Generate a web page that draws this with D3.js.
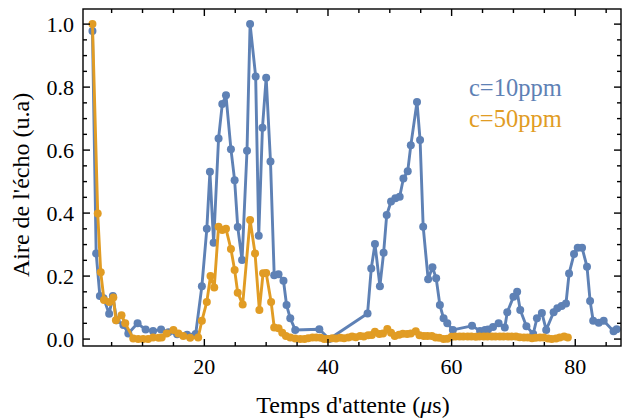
<!DOCTYPE html>
<html><head><meta charset="utf-8">
<script src="https://cdn.jsdelivr.net/npm/d3@7"></script>
<style>body{margin:0;background:#fff}svg{display:block}</style>
</head><body>
<svg id="c" width="622" height="419"></svg>
<script>
// ---- data ----
const blueX = [1.9,2.5,3.1,3.7,4.6,5.2,5.8,6.9,7.7,9.2,10.5,11.7,13.0,14.2,15.6,17.2,18.6,19.6,20.4,20.9,21.5,22.3,22.9,23.5,24.3,24.9,25.4,26.1,26.9,27.4,28.3,28.8,29.4,30.0,30.7,31.3,32.0,32.8,33.3,33.9,34.7,38.6,40.2,46.4,47.0,47.6,48.4,49.0,49.5,50.2,50.9,51.6,52.2,52.9,53.4,54.4,54.9,55.4,56.2,56.9,57.5,58.1,58.7,59.3,60.2,63.3,64.6,65.4,65.9,66.7,67.6,68.6,69.0,70.0,70.6,71.1,72.1,73.2,73.8,74.6,75.3,76.5,77.1,77.8,78.5,79.0,79.8,80.4,81.1,81.9,82.4,82.9,83.8,84.6,86.2,86.7];
const blueY = [0.978,0.272,0.137,0.13,0.08,0.137,0.06,0.045,0.018,0.05,0.03,0.026,0.03,0.022,0.015,0.014,0.016,0.168,0.35,0.531,0.306,0.637,0.746,0.774,0.603,0.504,0.356,0.251,0.598,1.0,0.834,0.328,0.671,0.83,0.564,0.203,0.206,0.185,0.108,0.066,0.029,0.031,0.0,0.081,0.224,0.302,0.168,0.274,0.394,0.437,0.447,0.452,0.51,0.533,0.615,0.753,0.632,0.357,0.19,0.228,0.193,0.108,0.066,0.05,0.029,0.042,0.026,0.029,0.03,0.038,0.05,0.037,0.085,0.134,0.15,0.092,0.041,0.016,0.066,0.083,0.029,0.085,0.098,0.105,0.113,0.208,0.27,0.29,0.29,0.23,0.121,0.058,0.052,0.058,0.025,0.031];
const orangeX = [1.9,2.75,3.24,3.77,4.63,5.28,5.7,6.6,7.2,8.5,9.3,10.1,10.9,11.7,12.6,13.1,13.9,15.0,15.8,16.6,17.7,19.0,19.6,20.4,21.0,21.6,22.3,22.9,23.5,24.3,24.9,25.4,26.2,27.4,28.2,28.9,29.5,30.0,30.8,31.3,32.0,32.6,33.2,33.9,34.7,35.5,36.2,36.8,37.5,38.1,38.8,39.4,40.0,40.7,41.3,42.0,42.6,43.3,43.9,44.5,45.2,45.8,46.5,47.1,47.6,48.3,48.9,49.6,50.2,50.8,51.5,52.1,52.8,53.4,54.2,54.8,55.5,56.1,56.8,57.4,58.0,58.7,59.3,60.0,60.6,61.3,61.9,62.6,63.2,63.9,64.5,65.2,65.8,66.5,67.1,67.8,68.4,69.1,69.7,70.4,71.0,71.7,72.3,73.0,73.6,74.3,74.9,75.6,76.2,76.9,77.5,78.2,78.8];
const orangeY = [1.0,0.399,0.212,0.124,0.118,0.132,0.06,0.076,0.05,0.002,0.0,0.0,0.0,0.005,0.004,0.005,0.018,0.029,0.018,0.01,0.004,0.005,0.058,0.118,0.2,0.164,0.357,0.346,0.35,0.286,0.219,0.147,0.11,0.378,0.272,0.092,0.209,0.21,0.118,0.037,0.034,0.02,0.01,0.005,0.002,0.0,0.0,0.003,0.005,0.005,0.004,0.0,0.0,0.003,0.002,0.004,0.003,0.005,0.008,0.006,0.01,0.008,0.012,0.013,0.023,0.016,0.018,0.032,0.02,0.01,0.014,0.017,0.016,0.018,0.025,0.012,0.01,0.01,0.01,0.005,0.004,0.0,0.001,0.007,0.008,0.008,0.008,0.008,0.008,0.007,0.008,0.008,0.008,0.008,0.008,0.008,0.008,0.008,0.008,0.008,0.006,0.005,0.005,0.003,0.004,0.005,0.005,0.002,0.0,0.002,0.005,0.008,0.005];
const xTicks = [20,40,60,80];
const xMinor = [5,10,15,25,30,35,45,50,55,65,70,75,85];
const yTicks = [0.0,0.2,0.4,0.6,0.8,1.0];
const yMinor = [0.05,0.1,0.15,0.25,0.3,0.35,0.45,0.5,0.55,0.65,0.7,0.75,0.85,0.9,0.95];
const seriesNames = ["c=10ppm","c=50ppm"];
const colors = ["#5e81b5","#e19c24"];
const xTitleParts = ["Temps d'attente (", "\u03bc", "s)"];
const yTitle = "Aire de l'\u00e9cho (u.a)";

// ---- layout ----
const L = 83, R = 621, T = 9, B = 346;
const x = d3.scaleLinear().domain([0.37, 87.4]).range([L, R]);
const y = d3.scaleLinear().domain([-0.022, 1.048]).range([B, T]);
const svg = d3.select("#c");
const font = "'Liberation Serif','Times New Roman',serif";

const series = [
  {name: seriesNames[0], color: colors[0], pts: blueX.map((v,i)=>[v, blueY[i]])},
  {name: seriesNames[1], color: colors[1], pts: orangeX.map((v,i)=>[v, orangeY[i]])}
];
const line = d3.line().x(d=>x(d[0])).y(d=>y(d[1]));
const g = svg.append("g");
series.forEach(s => {
  g.append("path").attr("d", line(s.pts)).attr("fill","none")
   .attr("stroke", s.color).attr("stroke-width", 2.9).attr("stroke-linejoin","round");
  g.selectAll(null).data(s.pts).enter().append("circle")
   .attr("cx", d=>x(d[0])).attr("cy", d=>y(d[1])).attr("r", 4).attr("fill", s.color);
});

// ---- frame & ticks ----
const fr = svg.append("g").attr("stroke","#000").attr("stroke-width",1.4);
fr.append("rect").attr("x",L).attr("y",T).attr("width",R-L).attr("height",B-T).attr("fill","none");
const maj = 7, mnr = 4;
xTicks.forEach(v => {
  fr.append("line").attr("x1",x(v)).attr("x2",x(v)).attr("y1",B).attr("y2",B-maj);
  fr.append("line").attr("x1",x(v)).attr("x2",x(v)).attr("y1",T).attr("y2",T+maj);
});
xMinor.forEach(v => {
  fr.append("line").attr("x1",x(v)).attr("x2",x(v)).attr("y1",B).attr("y2",B-mnr);
  fr.append("line").attr("x1",x(v)).attr("x2",x(v)).attr("y1",T).attr("y2",T+mnr);
});
yTicks.forEach(v => {
  fr.append("line").attr("x1",L).attr("x2",L+maj).attr("y1",y(v)).attr("y2",y(v));
  fr.append("line").attr("x1",R).attr("x2",R-maj).attr("y1",y(v)).attr("y2",y(v));
});
yMinor.forEach(v => {
  fr.append("line").attr("x1",L).attr("x2",L+mnr).attr("y1",y(v)).attr("y2",y(v));
  fr.append("line").attr("x1",R).attr("x2",R-mnr).attr("y1",y(v)).attr("y2",y(v));
});

// ---- labels ----
const lab = svg.append("g").attr("font-family", font).attr("fill","#000");
xTicks.forEach(v => {
  lab.append("text").attr("x", x(v)).attr("y", 374).attr("text-anchor","middle")
     .attr("font-size", 22).text(d3.format(".0f")(v));
});
yTicks.forEach(v => {
  lab.append("text").attr("x", 74).attr("y", y(v)).attr("dy","0.35em").attr("text-anchor","end")
     .attr("font-size", 22).text(d3.format(".1f")(v));
});
const xt = lab.append("text").attr("x", (L+R)/2 + 1).attr("y", 413).attr("text-anchor","middle")
   .attr("font-size", 24);
xTitleParts.forEach((p,i) => {
  xt.append("tspan").attr("font-style", i===1 ? "italic" : "normal").text(p);
});
lab.append("text").attr("transform","translate(29,185) rotate(-90)").attr("text-anchor","middle")
   .attr("font-size", 24).text(yTitle);

// ---- legend ----
series.forEach((s,i) => {
  svg.append("text").attr("x", 469).attr("y", 96 + i*31).attr("font-family", font)
     .attr("font-size", 24.5).attr("fill", s.color).text(s.name);
});
</script>
</body></html>
